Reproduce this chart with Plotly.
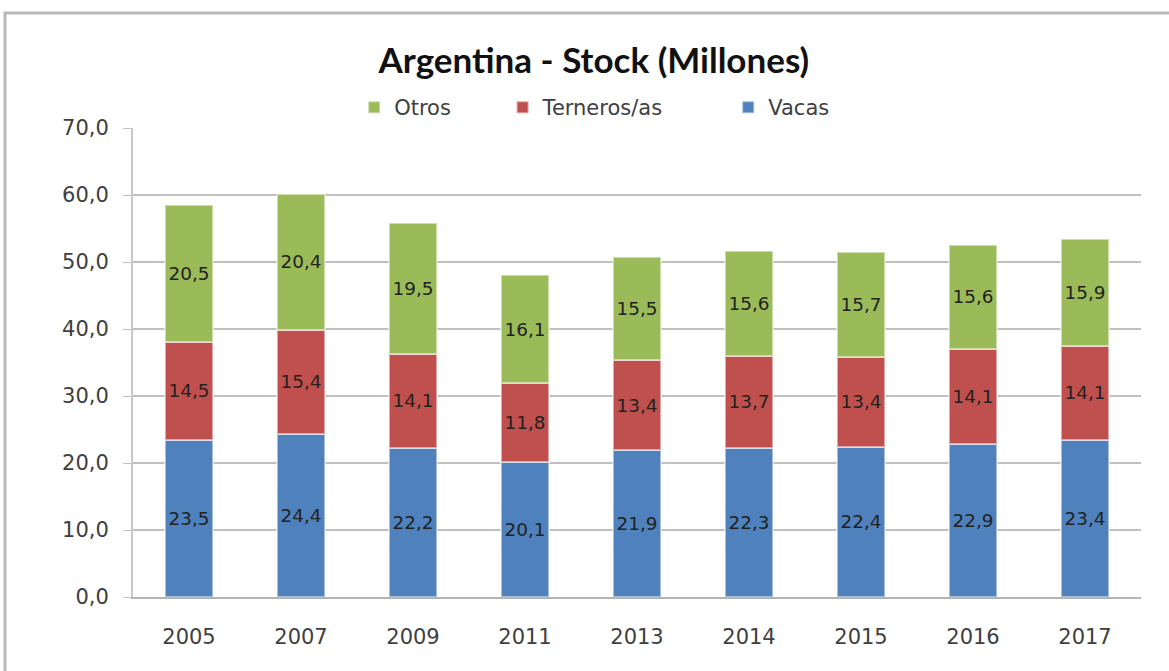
import plotly.graph_objects as go

years = ["2005", "2007", "2009", "2011", "2013", "2014", "2015", "2016", "2017"]
vacas = [23.5, 24.4, 22.2, 20.1, 21.9, 22.3, 22.4, 22.9, 23.4]
terneros = [14.5, 15.4, 14.1, 11.8, 13.4, 13.7, 13.4, 14.1, 14.1]
otros = [20.5, 20.4, 19.5, 16.1, 15.5, 15.6, 15.7, 15.6, 15.9]
y_ticks = [0, 10, 20, 30, 40, 50, 60, 70]

font_family = "DejaVu Sans, sans-serif"
title_family = "Lato, sans-serif"
NB = "\u00a0"

fig = go.Figure()
for name, pad, vals, color in [("Vacas", 0, vacas, "#4F81BD"),
                               ("Terneros/as", 9, terneros, "#C0504D"),
                               ("Otros", 7, otros, "#9BBB59")]:
    fig.add_trace(go.Bar(
        x=years, y=vals, name=name + NB * pad,
        marker=dict(color=color, line=dict(color="rgba(255,255,255,0.5)", width=2)),
        texttemplate="%{y:.1f}", textposition="inside", insidetextanchor="middle",
        textangle=0,
        textfont=dict(size=20, color="#222222", family=font_family),
    ))

fig.update_layout(
    barmode="stack",
    bargap=0.58,
    separators=",.",
    width=1169, height=671,
    margin=dict(l=133, r=28, t=128, b=74),
    paper_bgcolor="white", plot_bgcolor="white",
    font=dict(family=font_family, color="#404040", size=20),
    title=dict(text="<b>Argentina - Stock (Millones)</b>", x=0.508, xanchor="center",
               y=0.91, yanchor="middle",
               font=dict(size=35, color="#111111", family=title_family)),
    legend=dict(orientation="h", traceorder="reversed", x=0.458, xanchor="center",
                y=1.0, yanchor="bottom", font=dict(size=21, color="#404040"),
                itemwidth=30, itemclick=False),
    showlegend=True,
    xaxis=dict(showgrid=False, showline=True, linecolor="#b5b5b5", linewidth=2,
               ticks="", ticklabelstandoff=20, tickfont=dict(size=21, color="#404040")),
    yaxis=dict(range=[0, 70], tickvals=y_ticks, tickformat=".1f",
               showgrid=True, gridcolor="#c0c0c0", gridwidth=2,
               showline=True, linecolor="#c8c8c8", linewidth=2,
               ticks="outside", ticklen=8, tickcolor="#c0c0c0", ticklabelstandoff=10,
               zeroline=False, tickfont=dict(size=21, color="#404040")),
    shapes=[dict(type="rect", xref="paper", yref="paper",
                 x0=(5 - 133) / 1008, x1=(1180 - 133) / 1008,
                 y0=(597 - 680) / 469, y1=(597 - 13) / 469,
                 line=dict(color="#b8b8b8", width=3), fillcolor="rgba(0,0,0,0)", layer="below")],
)

fig.write_html("out.html", config={"displayModeBar": False},
               post_script="document.body.style.margin='0px';")
